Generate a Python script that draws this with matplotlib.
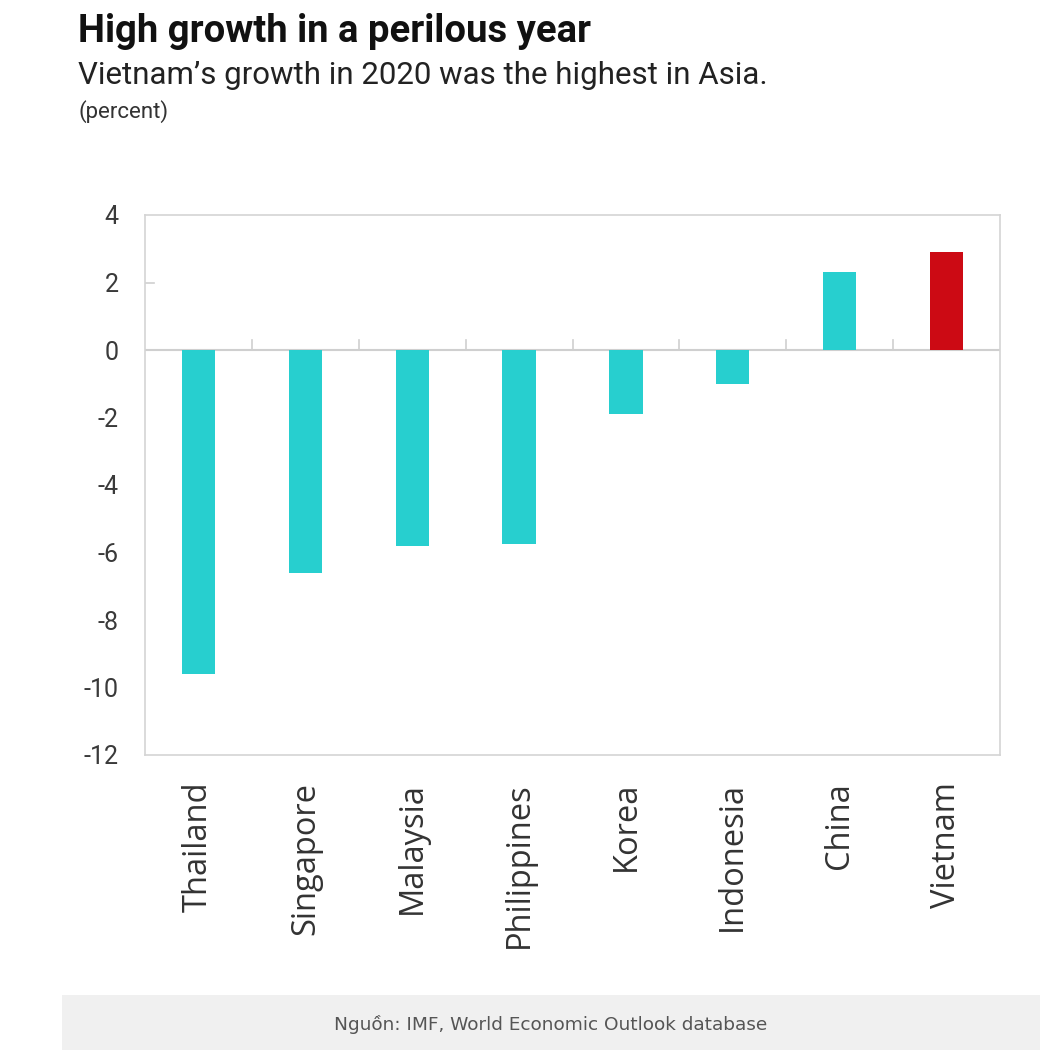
import matplotlib
matplotlib.use("Agg")
import matplotlib.pyplot as plt
from matplotlib.patches import Rectangle

countries = ["Thailand", "Singapore", "Malaysia", "Philippines", "Korea", "Indonesia", "China", "Vietnam"]
growth = [-9.6, -6.6, -5.8, -5.75, -1.9, -1.0, 2.3, 2.9]
colors = ["#27cfcf"] * 7 + ["#cc0a14"]
yticks = [4, 2, 0, -2, -4, -6, -8, -10, -12]

W, H = 1056, 1058
fig = plt.figure(figsize=(W / 100, H / 100), dpi=100)

# axes: left 145, right 1000, top 215, bottom 755 (pixels)
ax = fig.add_axes([145 / W, 1 - 755 / H, (1000 - 145) / W, (755 - 215) / H])
x = list(range(len(countries)))
ax.bar(x, growth, width=0.31, color=colors, zorder=3)
ax.set_xlim(-0.5, len(countries) - 0.5)
ax.set_ylim(-12, 4)
ax.set_yticks(yticks)
ax.set_yticklabels([str(v) for v in yticks], fontsize=18, color="#3a3a3a", family="Roboto")
ax.tick_params(axis="y", length=0, pad=19)
ax.set_xticks([])
for s in ax.spines.values():
    s.set_color("#d4d4d4")
    s.set_linewidth(1.2)
ax.axhline(0, color="#cfcfcf", lw=1.5, zorder=2)
# category separators ticks on zero line
for b in range(1, len(countries)):
    ax.plot([b - 0.5, b - 0.5], [0, 0.3], color="#cfcfcf", lw=1.2, zorder=2)
ax.plot([-0.5, -0.42], [2, 2], color="#cfcfcf", lw=1.2)

# rotated category labels
for xi, name in zip(x, countries):
    ax.text(xi, -12.8, name, rotation=90, ha="center", va="top", fontsize=23.5,
            color="#333333", family="Open Sans")

# titles
fig.text(78 / W, 1 - 42 / H, "High growth in a perilous year", fontsize=27.5, fontweight="bold",
         family="Roboto", color="#111111", va="baseline")
fig.text(78 / W, 1 - 84 / H, "Vietnam\u2019s growth in 2020 was the highest in Asia.", fontsize=22.5,
         family="Roboto", color="#222222", va="baseline")
fig.text(78 / W, 1 - 118 / H, "(percent)", fontsize=16, family="Roboto", color="#333333", va="baseline")

# footer
fig.patches.append(Rectangle((62 / W, 1 - 1050 / H), (1040 - 62) / W, (1050 - 995) / H,
                             transform=fig.transFigure, facecolor="#f0f0f0", edgecolor="none", zorder=0))
fig.text(551 / W, 1 - 1025 / H, "Nguồn: IMF, World Economic Outlook database", fontsize=13.3,
         family="DejaVu Sans", color="#555555", ha="center", va="center")

fig.savefig("out.png", dpi=100)
